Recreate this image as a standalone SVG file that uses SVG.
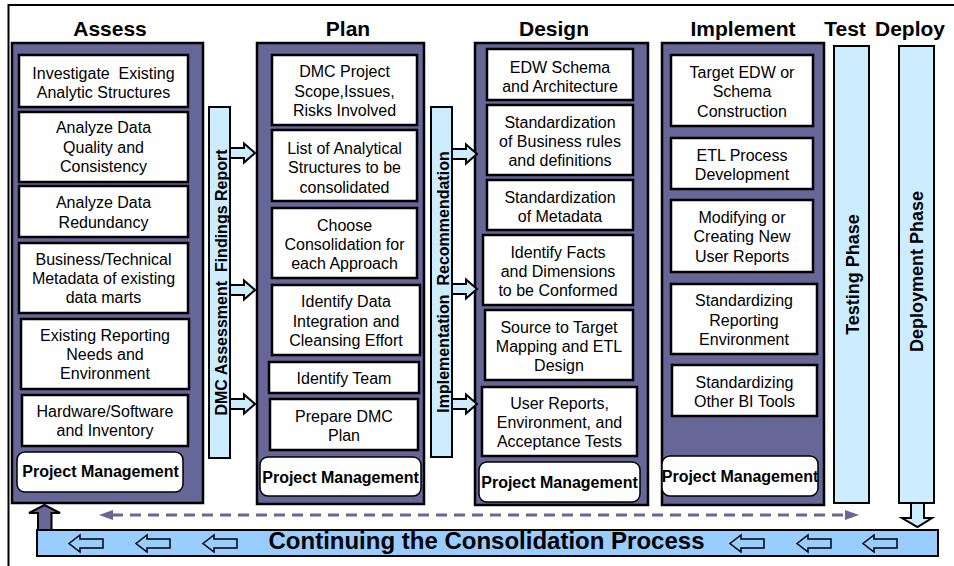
<svg xmlns="http://www.w3.org/2000/svg" xmlns:xlink="http://www.w3.org/1999/xlink" width="954" height="566" viewBox="0 0 954 566">
<style>
text{font-family:"Liberation Sans",Arial,sans-serif;fill:#000}
.hd{font-size:21px;font-weight:bold;text-anchor:middle}
.bt{font-size:16px;text-anchor:middle}
.pm{font-size:16px;font-weight:bold;text-anchor:middle}
.vt{font-size:16px;font-weight:bold;text-anchor:middle}
.vt2{font-size:18px;font-weight:bold;text-anchor:middle}
.col{fill:#666699;stroke:#000;stroke-width:2.5}
.box{fill:#fff;stroke:#000;stroke-width:2.5}
.pmb{fill:#fff;stroke:#000;stroke-width:1.5}
.bar{fill:#ccecff;stroke:#000;stroke-width:2}
.arr{fill:#ccecff;stroke:#000;stroke-width:2}
.larr{fill:#99ccff;stroke:#000;stroke-width:1.5}
</style>
<defs>
<path id="ra" d="M0,-5 H14 V-9.5 L25,0 L14,9.5 V5 H0 Z"/>
<path id="la" d="M0,0 L11,-8.5 V-4.5 H34 V4.5 H11 V8.5 Z"/>
<marker id="dh" viewBox="0 0 14 10" refX="1" refY="5" markerWidth="14" markerHeight="10" markerUnits="userSpaceOnUse" orient="auto-start-reverse">
<path d="M0,0 L14,5 L0,10 Z" fill="#666699"/>
</marker>
</defs>
<rect x="0" y="0" width="954" height="566" fill="#fff"/>
<rect x="8.5" y="5" width="970" height="620" fill="#fff" stroke="#000" stroke-width="2"/>

<g id="headings">
<text class="hd" x="110" y="36">Assess</text>
<text class="hd" x="348" y="36">Plan</text>
<text class="hd" x="554" y="36">Design</text>
<text class="hd" x="743" y="36">Implement</text>
<text class="hd" x="845" y="36">Test</text>
<text class="hd" x="910" y="36">Deploy</text>
</g>

<g id="assess">
<rect class="col" x="12" y="43" width="191" height="460"/>
<g id="a1"><rect class="box" x="19" y="55" width="169" height="52"/>
<text class="bt" x="103.5" y="79" xml:space="preserve">Investigate  Existing</text><text class="bt" x="103.5" y="98">Analytic Structures</text></g>
<g id="a2"><rect class="box" x="19" y="112" width="169" height="70"/>
<text class="bt" x="103.5" y="133">Analyze Data</text><text class="bt" x="103.5" y="152.5">Quality and</text><text class="bt" x="103.5" y="172">Consistency</text></g>
<g id="a3"><rect class="box" x="19" y="186" width="169" height="51"/>
<text class="bt" x="103.5" y="208">Analyze Data</text><text class="bt" x="103.5" y="227.5">Redundancy</text></g>
<g id="a4"><rect class="box" x="19" y="243" width="169" height="70"/>
<text class="bt" x="103.5" y="265">Business/Technical</text><text class="bt" x="103.5" y="284">Metadata of existing</text><text class="bt" x="103.5" y="303">data marts</text></g>
<g id="a5"><rect class="box" x="21" y="319" width="168" height="70"/>
<text class="bt" x="105" y="341">Existing Reporting</text><text class="bt" x="105" y="360">Needs and</text><text class="bt" x="105" y="379">Environment</text></g>
<g id="a6"><rect class="box" x="22" y="395" width="166" height="51"/>
<text class="bt" x="105" y="417">Hardware/Software</text><text class="bt" x="105" y="436">and Inventory</text></g>
<g id="a7"><rect class="pmb" x="17" y="452" width="166" height="40" rx="8"/>
<text class="pm" x="100.5" y="477">Project Management</text></g>
</g>

<g id="findings">
<rect class="bar" x="209" y="107" width="21" height="351"/>
<text class="vt" transform="translate(226.5,282.5) rotate(-90)" xml:space="preserve">DMC Assessment  Findings Report</text>
</g>

<g id="plan">
<rect class="col" x="257" y="43" width="167" height="461"/>
<g id="p1"><rect class="box" x="272" y="55" width="145" height="70"/>
<text class="bt" x="344.5" y="77">DMC Project</text><text class="bt" x="344.5" y="96.5">Scope,Issues,</text><text class="bt" x="344.5" y="116">Risks Involved</text></g>
<g id="p2"><rect class="box" x="272" y="130" width="145" height="71"/>
<text class="bt" x="344.5" y="153.5">List of Analytical</text><text class="bt" x="344.5" y="173">Structures to be</text><text class="bt" x="344.5" y="192.5">consolidated</text></g>
<g id="p3"><rect class="box" x="272" y="208" width="145" height="70"/>
<text class="bt" x="344.5" y="230.5">Choose</text><text class="bt" x="344.5" y="249.5">Consolidation for</text><text class="bt" x="344.5" y="268.5">each Approach</text></g>
<g id="p4"><rect class="box" x="272" y="285" width="148" height="70"/>
<text class="bt" x="346" y="307">Identify Data</text><text class="bt" x="346" y="326.5">Integration and</text><text class="bt" x="346" y="346">Cleansing Effort</text></g>
<g id="p5"><rect class="box" x="269" y="362" width="150" height="31"/>
<text class="bt" x="344" y="383.5">Identify Team</text></g>
<g id="p6"><rect class="box" x="270" y="399" width="148" height="51"/>
<text class="bt" x="344" y="422">Prepare DMC</text><text class="bt" x="344" y="441">Plan</text></g>
<g id="p7"><rect class="pmb" x="260" y="457" width="161" height="39" rx="8"/>
<text class="pm" x="340.5" y="483">Project Management</text></g>
</g>

<g id="recommendation">
<rect class="bar" x="431" y="107" width="21" height="350"/>
<text class="vt" transform="translate(448.5,282) rotate(-90)" xml:space="preserve">Implementation  Recommendation</text>
</g>

<g id="design">
<rect class="col" x="475" y="43" width="173" height="462"/>
<g id="d1"><rect class="box" x="487" y="49" width="146" height="51"/>
<text class="bt" x="560" y="72.5">EDW Schema</text><text class="bt" x="560" y="91.5">and Architecture</text></g>
<g id="d2"><rect class="box" x="487" y="105" width="146" height="70"/>
<text class="bt" x="560" y="128">Standardization</text><text class="bt" x="560" y="147">of Business rules</text><text class="bt" x="560" y="166">and definitions</text></g>
<g id="d3"><rect class="box" x="487" y="180" width="146" height="50"/>
<text class="bt" x="560" y="203">Standardization</text><text class="bt" x="560" y="222">of Metadata</text></g>
<g id="d4"><rect class="box" x="483" y="235" width="150" height="70"/>
<text class="bt" x="558" y="258">Identify Facts</text><text class="bt" x="558" y="277">and Dimensions</text><text class="bt" x="558" y="296">to be Conformed</text></g>
<g id="d5"><rect class="box" x="485" y="310" width="148" height="70"/>
<text class="bt" x="559" y="333">Source to Target</text><text class="bt" x="559" y="352">Mapping and ETL</text><text class="bt" x="559" y="371">Design</text></g>
<g id="d6"><rect class="box" x="482" y="387" width="155" height="69"/>
<text class="bt" x="559.5" y="408.5">User Reports,</text><text class="bt" x="559.5" y="427.5">Environment, and</text><text class="bt" x="559.5" y="446.5">Acceptance Tests</text></g>
<g id="d7"><rect class="pmb" x="479" y="462" width="161" height="40" rx="8"/>
<text class="pm" x="559.5" y="488">Project Management</text></g>
</g>

<g id="implement">
<rect class="col" x="662" y="43" width="162" height="462"/>
<g id="i1"><rect class="box" x="671" y="55" width="142" height="71"/>
<text class="bt" x="742" y="77.5">Target EDW or</text><text class="bt" x="742" y="97">Schema</text><text class="bt" x="742" y="116.5">Construction</text></g>
<g id="i2"><rect class="box" x="671" y="138" width="142" height="51"/>
<text class="bt" x="742" y="161">ETL Process</text><text class="bt" x="742" y="180">Development</text></g>
<g id="i3"><rect class="box" x="671" y="200" width="142" height="72"/>
<text class="bt" x="742" y="222.5">Modifying or</text><text class="bt" x="742" y="242">Creating New</text><text class="bt" x="742" y="261.5">User Reports</text></g>
<g id="i4"><rect class="box" x="671" y="284" width="146" height="70"/>
<text class="bt" x="744" y="306">Standardizing</text><text class="bt" x="744" y="325.5">Reporting</text><text class="bt" x="744" y="345">Environment</text></g>
<g id="i5"><rect class="box" x="672" y="365" width="145" height="51"/>
<text class="bt" x="744.5" y="388">Standardizing</text><text class="bt" x="744.5" y="407">Other BI Tools</text></g>
<g id="i6"><rect class="pmb" x="662" y="456" width="156" height="40" rx="8"/>
<text class="pm" x="740" y="482">Project Management</text></g>
</g>

<g id="test">
<rect class="bar" x="834" y="46" width="35" height="457"/>
<text class="vt2" transform="translate(859,274.5) rotate(-90)">Testing Phase</text>
</g>

<g id="deploy">
<rect class="bar" x="899" y="46" width="35" height="457"/>
<text class="vt2" transform="translate(923,271.5) rotate(-90)">Deployment Phase</text>
</g>

<g id="continuing">
<rect x="37" y="530" width="901" height="26" fill="#99ccff" stroke="#000" stroke-width="2"/>
<text x="486.5" y="548.5" style="font-size:24px;font-weight:bold;text-anchor:middle">Continuing the Consolidation Process</text>
<use xlink:href="#la" class="larr" x="69" y="543.5"/>
<use xlink:href="#la" class="larr" x="136" y="543.5"/>
<use xlink:href="#la" class="larr" x="203" y="543.5"/>
<use xlink:href="#la" class="larr" x="730" y="543.5"/>
<use xlink:href="#la" class="larr" x="797" y="543.5"/>
<use xlink:href="#la" class="larr" x="863" y="543.5"/>
</g>

<g id="connectors">
<use xlink:href="#ra" class="arr" x="230" y="153"/>
<use xlink:href="#ra" class="arr" x="230" y="290"/>
<use xlink:href="#ra" class="arr" x="230" y="404"/>
<use xlink:href="#ra" class="arr" x="452" y="154"/>
<use xlink:href="#ra" class="arr" x="452" y="289"/>
<use xlink:href="#ra" class="arr" x="452" y="404"/>
<line x1="112" y1="515" x2="846" y2="515" stroke="#666699" stroke-width="3" stroke-dasharray="11 7" marker-start="url(#dh)" marker-end="url(#dh)"/>
<polygon points="44.5,505 60,513 51.5,513 51.5,530 38,530 38,513 29,513" fill="#666699" stroke="#000" stroke-width="2"/>
<polygon points="911,503 924,503 924,518 932,518 917.5,527 902,518 911,518" fill="#ccecff" stroke="#000" stroke-width="2"/>
</g>
</svg>
